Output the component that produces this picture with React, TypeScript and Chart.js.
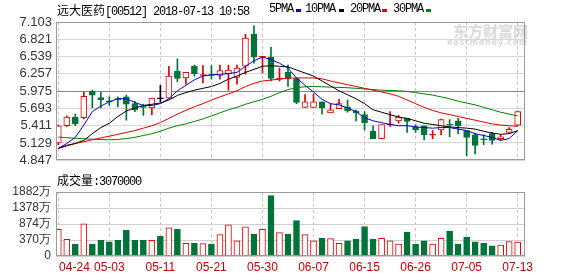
import React, { useEffect, useRef } from "react";
import { Chart, registerables } from "chart.js";

Chart.register(...registerables);

// ---- data ----
const DATES = [
  "04-24","04-25","04-26","04-27","04-30","05-02","05-03","05-04","05-07","05-08",
  "05-09","05-10","05-11","05-14","05-15","05-16","05-17","05-18","05-21","05-23",
  "05-24","05-25","05-28","05-29","05-30","05-31","06-01","06-04","06-05","06-06",
  "06-07","06-08","06-11","06-12","06-13","06-14","06-15","06-19","06-20","06-21",
  "06-22","06-25","06-26","06-27","06-28","06-29","07-03","07-04","07-05","07-06",
  "07-09","07-10","07-11","07-12","07-13",
];
const OPEN = [
  5.13,5.41,5.55,5.54,5.97,5.87,5.81,5.84,5.88,5.77,
  5.72,5.70,5.85,5.86,6.30,6.19,6.38,6.23,6.24,6.23,
  6.26,6.20,6.38,6.90,6.53,6.53,6.17,6.28,6.18,5.71,
  5.71,5.80,5.62,5.69,5.72,5.65,5.59,5.32,5.20,5.425,
  5.49,5.53,5.39,5.41,5.255,5.34,5.43,5.49,5.33,5.26,
  5.19,5.28,5.20,5.30,5.42,
];
const CLOSE = [
  5.41,5.55,5.44,5.89,5.91,5.83,5.80,5.835,5.76,5.67,
  5.71,5.86,5.85,6.22,6.18,6.28,6.26,6.24,6.23,6.31,
  6.32,6.35,6.84,6.53,6.54,6.18,6.18,6.18,5.79,5.80,
  5.80,5.70,5.67,5.77,5.65,5.62,5.46,5.20,5.43,5.435,
  5.55,5.48,5.34,5.26,5.265,5.51,5.42,5.41,5.22,5.09,
  5.18,5.17,5.23,5.35,5.64,
];
const HIGH = [
  5.42,5.57,5.60,5.96,5.99,5.96,5.88,5.88,5.91,5.81,
  5.76,5.86,6.07,6.38,6.50,6.28,6.40,6.39,6.39,6.40,
  6.40,6.40,6.90,7.04,6.54,6.69,6.35,6.40,6.19,5.92,
  5.93,5.80,5.77,5.84,5.83,5.67,5.64,5.41,5.43,5.64,
  5.58,5.53,5.43,5.41,5.33,5.52,5.51,5.53,5.33,5.29,
  5.26,5.30,5.26,5.38,5.65,
];
const LOW = [
  5.10,5.40,5.41,5.52,5.70,5.70,5.74,5.72,5.50,5.64,
  5.58,5.59,5.80,5.86,6.13,6.09,6.22,6.11,6.17,6.17,
  5.99,6.09,6.25,6.43,6.27,6.14,6.14,6.05,5.77,5.71,
  5.71,5.60,5.62,5.69,5.63,5.49,5.34,5.20,5.20,5.40,
  5.45,5.30,5.30,5.18,5.20,5.26,5.23,5.28,4.92,4.95,
  5.10,5.11,5.18,5.30,5.41,
];
const MA5 = [
  5.04,5.12,5.22,5.42,5.64,5.73,5.80,5.85,5.85,5.79,
  5.74,5.74,5.77,5.85,5.98,6.07,6.16,6.22,6.24,6.25,
  6.26,6.28,6.38,6.47,6.53,6.49,6.43,6.35,6.19,6.07,
  5.96,5.84,5.77,5.75,5.70,5.64,5.54,5.49,5.46,5.43,
  5.41,5.41,5.39,5.38,5.37,5.38,5.38,5.355,5.33,5.28,
  5.25,5.22,5.17,5.20,5.33,
];
const MA10 = [
  5.04,5.09,5.12,5.17,5.28,5.38,5.45,5.56,5.65,5.70,
  5.74,5.76,5.78,5.83,5.905,5.95,5.99,6.02,6.05,6.10,
  6.17,6.22,6.28,6.33,6.38,6.39,6.38,6.37,6.32,6.27,
  6.22,6.14,6.06,5.98,5.915,5.85,5.77,5.67,5.63,5.59,
  5.55,5.53,5.49,5.45,5.43,5.41,5.39,5.38,5.37,5.355,
  5.32,5.29,5.27,5.28,5.33,
];
const MA20 = [
  5.04,5.08,5.12,5.15,5.18,5.21,5.24,5.27,5.30,5.33,
  5.37,5.41,5.46,5.53,5.60,5.66,5.72,5.77,5.83,5.88,
  5.93,5.98,6.05,6.10,6.14,6.155,6.17,6.185,6.19,6.19,
  6.19,6.175,6.14,6.11,6.08,6.05,6.02,5.99,5.96,5.93,
  5.89,5.83,5.77,5.71,5.66,5.62,5.59,5.56,5.53,5.50,
  5.47,5.44,5.42,5.41,5.40,
];
const MA30 = [
  5.224,5.215,5.205,5.198,5.19,5.185,5.18,5.185,5.20,5.22,
  5.25,5.28,5.32,5.37,5.41,5.44,5.48,5.52,5.57,5.62,
  5.67,5.71,5.76,5.80,5.84,5.89,5.95,6.00,6.03,6.045,
  6.05,6.045,6.04,6.035,6.03,6.02,6.01,6.00,5.99,5.985,
  5.98,5.97,5.95,5.93,5.91,5.88,5.85,5.81,5.78,5.75,
  5.71,5.67,5.63,5.60,5.57,
];
// volume in 万
const VOLUME = [
  703,393,238,880,238,362,309,362,672,362,
  362,362,486,755,703,269,269,260,238,539,
  848,341,786,548,703,1766,601,548,982,539,
  341,424,414,269,341,393,796,393,424,341,
  238,620,238,341,238,424,651,238,465,310,
  269,186,207,320,307,
];
const PRICE_TICKS = [4.847, 5.129, 5.411, 5.693, 5.975, 6.257, 6.539, 6.821, 7.103];
const PRICE_REF = 5.975;
const VOL_TICKS = [370, 874, 1378, 1882];
const VOL_FLOOR = -134;
const LABEL_EVERY = 6;
const TITLE_NAME = "远大医药";
const TITLE_REST = "[00512] 2018-07-13 10:58";
const VOL_TITLE = "成交量";
const VOL_LAST = ":3070000";
const MA_NAMES = ["5PMA", "10PMA", "20PMA", "30PMA"];

// ---- styles ----
const RED = "#dd0000";
const GREEN = "#00733a";
const MA_COLORS = ["#0000cc", "#000000", "#dd0000", "#008000"];
const MONO: React.CSSProperties = {
  fontFamily: "'Liberation Mono', monospace",
  fontSize: 12,
  letterSpacing: "-1.2px",
};
const CJK: React.CSSProperties = {
  fontFamily: "'Noto Sans CJK SC', sans-serif",
  fontSize: 12,
};

const framePlugin = {
  id: "frame",
  afterDatasetsDraw(chart: any) {
    const { ctx, chartArea: a } = chart;
    ctx.save();
    ctx.strokeStyle = "#9a9a9a";
    ctx.lineWidth = 1;
    ctx.strokeRect(
      Math.round(a.left) + 0.5,
      Math.round(a.top) + 0.5,
      Math.round(a.right - a.left) - 1,
      Math.round(a.bottom - a.top) - 1
    );
    ctx.restore();
  },
};

export default function App() {
  const priceRef = useRef<HTMLCanvasElement>(null);
  const volRef = useRef<HTMLCanvasElement>(null);

  useEffect(() => {
    const n = CLOSE.length;
    const idx = Array.from({ length: n }, (_, i) => i);
    const labelIdx = idx.filter((i) => i % LABEL_EVERY === 0);
    const xMin = -0.27;
    const xMax = n - 1 + 0.86;
    const dir = idx.map((i) => (CLOSE[i] > OPEN[i] ? 1 : CLOSE[i] < OPEN[i] ? -1 : 0));
    const stroke = dir.map((d) => (d > 0 ? RED : d < 0 ? GREEN : "#000"));
    const doji = idx.map((i) => Math.abs(CLOSE[i] - OPEN[i]) < 0.02);
    const fill = idx.map((i) => (doji[i] ? stroke[i] : dir[i] > 0 ? "#ffffff" : GREEN));
    const mas = [MA5, MA10, MA20, MA30];

    const gridX = {
      type: "linear" as const,
      min: xMin,
      max: xMax,
      offset: false,
      afterBuildTicks: (s: any) => {
        s.ticks = labelIdx.map((v) => ({ value: v }));
      },
      afterFit: (s: any) => {
        s.height = 0;
      },
      ticks: { display: false, autoSkip: false },
      grid: { color: "#c4c4c4", drawTicks: false, offset: false },
      border: { display: false, dash: [3, 3] },
    };

    const price = new Chart(priceRef.current!, {
      type: "bar",
      data: {
        datasets: [
          ...mas.map((m, k) => ({
            type: "line" as const,
            data: idx.map((i) => ({ x: i, y: m[i] })),
            borderColor: MA_COLORS[k],
            borderWidth: 1,
            pointRadius: 0,
            tension: 0,
            order: 1,
          })),
          {
            type: "bar" as const,
            data: idx.map((i) => ({ x: i, y: [OPEN[i], CLOSE[i]] })),
            backgroundColor: fill,
            borderColor: stroke,
            borderWidth: 1,
            borderSkipped: false,
            barThickness: 6,
            minBarLength: 1,
            grouped: false,
            order: 2,
          },
          {
            type: "bar" as const,
            data: idx.map((i) => ({ x: i, y: [LOW[i], HIGH[i]] })),
            backgroundColor: stroke,
            borderWidth: 0,
            barThickness: 1,
            grouped: false,
            order: 3,
          },
        ] as any,
      },
      options: {
        responsive: false,
        animation: false,
        devicePixelRatio: 1,
        events: [],
        layout: { padding: { left: 0, right: 53, top: 22, bottom: 6 } },
        plugins: { legend: { display: false }, tooltip: { enabled: false } },
        scales: {
          x: gridX,
          y: {
            min: PRICE_TICKS[0],
            max: PRICE_TICKS[PRICE_TICKS.length - 1],
            afterBuildTicks: (s: any) => {
              s.ticks = PRICE_TICKS.map((v) => ({ value: v }));
            },
            afterFit: (s: any) => {
              s.width = 56;
            },
            ticks: {
              callback: (v: any) => Number(v).toFixed(3),
              color: "#333",
              font: { family: "'Liberation Sans', Arial, sans-serif", size: 13 },
              padding: 4,
              autoSkip: false,
            },
            grid: {
              drawTicks: false,
              color: (c: any) =>
                c.tick && Math.abs(c.tick.value - PRICE_REF) < 1e-6 ? "#8a8a8a" : "#d6d6d6",
            },
            border: { display: false },
          },
        } as any,
      },
      plugins: [framePlugin],
    });

    const vol = new Chart(volRef.current!, {
      type: "bar",
      data: {
        datasets: [
          {
            data: idx.map((i) => ({ x: i, y: [VOL_FLOOR, VOLUME[i]] })),
            backgroundColor: dir.map((d) => (d > 0 ? "#ffffff" : GREEN)),
            borderColor: dir.map((d) => (d > 0 ? RED : GREEN)),
            borderWidth: 1,
            borderSkipped: false,
            barThickness: 6,
            grouped: false,
          },
        ] as any,
      },
      options: {
        responsive: false,
        animation: false,
        devicePixelRatio: 1,
        events: [],
        layout: { padding: { left: 0, right: 53, top: 16, bottom: 0 } },
        plugins: { legend: { display: false }, tooltip: { enabled: false } },
        scales: {
          x: { ...gridX, weight: 0 },
          x2: {
            type: "linear",
            position: "bottom",
            weight: 1,
            min: xMin,
            max: xMax,
            offset: false,
            afterBuildTicks: (s: any) => {
              s.ticks = labelIdx.map((v, k) => ({ value: k === 0 ? v + 1.9 : v }));
            },
            afterFit: (s: any) => {
              s.height = 20;
            },
            ticks: {
              callback: (_v: any, k: number) => DATES[labelIdx[k]],
              color: "#c00000",
              font: { family: "'Liberation Sans', Arial, sans-serif", size: 12 },
              padding: 4,
              maxRotation: 0,
              autoSkip: false,
            },
            grid: { display: false, drawTicks: false },
            border: { display: false },
          },
          y: {
            min: VOL_FLOOR,
            max: VOL_TICKS[VOL_TICKS.length - 1],
            afterBuildTicks: (s: any) => {
              s.ticks = [VOL_FLOOR, ...VOL_TICKS].map((v) => ({ value: v }));
            },
            afterFit: (s: any) => {
              s.width = 56;
            },
            ticks: {
              callback: (v: any) => (v <= VOL_FLOOR ? "0" : `${v}万`),
              color: "#333",
              font: { family: "'Liberation Sans', Arial, sans-serif", size: 12 },
              padding: 5,
              autoSkip: false,
            },
            grid: { drawTicks: false, color: "#cfcfcf" },
            border: { display: false },
          },
        } as any,
      },
      plugins: [framePlugin],
    });

    return () => {
      price.destroy();
      vol.destroy();
    };
  }, []);

  const legendPos = [
    { text: 269, mark: 296 },
    { text: 305, mark: 339 },
    { text: 350, mark: 382 },
    { text: 393, mark: 426 },
  ];

  return (
    <div
      style={{
        position: "absolute",
        left: 0,
        top: 0,
        width: 578,
        height: 276,
        background: "#fff",
        overflow: "hidden",
        color: "#000",
      }}
    >
      <div
        style={{
          position: "absolute",
          left: 453,
          top: 22,
          fontFamily: "'Noto Sans CJK SC', sans-serif",
          fontWeight: 700,
          fontSize: 15,
          lineHeight: "17px",
          color: "#dadada",
          whiteSpace: "nowrap",
        }}
      >
        东方财富网
      </div>
      <div
        style={{
          position: "absolute",
          left: 447,
          top: 38,
          fontFamily: "'DejaVu Sans', sans-serif",
          fontWeight: 700,
          fontSize: 8,
          lineHeight: "9px",
          letterSpacing: "0.8px",
          color: "#dadada",
          whiteSpace: "nowrap",
        }}
      >
        eastmoney.com
      </div>
      <canvas
        ref={priceRef}
        width={578}
        height={172}
        style={{ position: "absolute", left: 0, top: 0, width: 578, height: 172 }}
      />
      <canvas
        ref={volRef}
        width={578}
        height={100}
        style={{ position: "absolute", left: 0, top: 176, width: 578, height: 100 }}
      />
      <div
        style={{
          position: "absolute",
          left: 57,
          top: 2,
          lineHeight: "15px",
          whiteSpace: "nowrap",
        }}
      >
        <span style={CJK}>{TITLE_NAME}</span>
        <span style={MONO}>{TITLE_REST}</span>
      </div>
      {MA_NAMES.map((name, k) => (
        <React.Fragment key={name}>
          <div
            style={{
              ...MONO,
              position: "absolute",
              left: legendPos[k].text,
              top: 2,
              lineHeight: "15px",
              whiteSpace: "nowrap",
            }}
          >
            {name}
          </div>
          <div
            style={{
              position: "absolute",
              left: legendPos[k].mark,
              top: 9,
              width: 5,
              height: 3,
              background: MA_COLORS[k],
            }}
          />
        </React.Fragment>
      ))}
      <div
        style={{
          position: "absolute",
          left: 57,
          top: 172,
          lineHeight: "15px",
          whiteSpace: "nowrap",
        }}
      >
        <span style={CJK}>{VOL_TITLE}</span>
        <span style={MONO}>{VOL_LAST}</span>
      </div>
    </div>
  );
}
